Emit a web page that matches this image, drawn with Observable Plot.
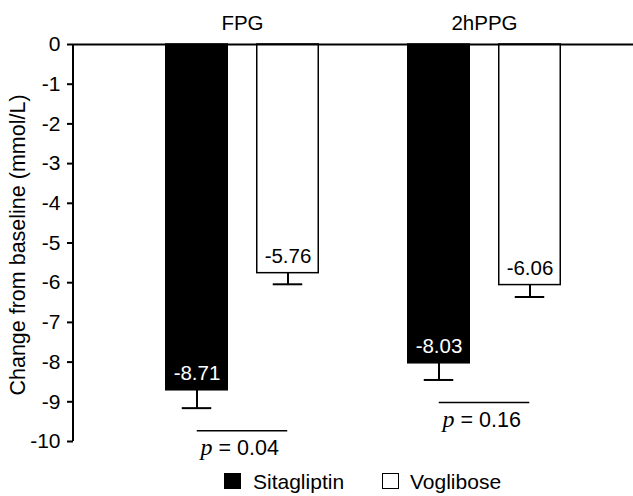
<!DOCTYPE html>
<html>
<head>
<meta charset="utf-8">
<script src="https://cdn.jsdelivr.net/npm/d3@7"></script>
<script src="https://cdn.jsdelivr.net/npm/@observablehq/plot@0.6"></script>
<style>
  body { margin: 0; background: #fff; font-family: "Liberation Sans", Arial, sans-serif; }
  #wrap { width: 633px; }
  #legend { position: relative; width: 633px; height: 30px; font-size: 21px; color: #000; }
  #legend .sw { position: absolute; top: 7px; width: 17px; height: 16px; box-sizing: border-box; border: 1.5px solid #000; }
  #legend .lb { position: absolute; top: 5px; line-height: 21px; white-space: nowrap; }
</style>
</head>
<body>
<div id="wrap">
  <div id="chart"></div>
  <div id="legend"></div>
</div>
<script>
// ---- data ----
const groups = ["FPG", "2hPPG"];
const series = ["Sitagliptin", "Voglibose"];
const sitagliptinValues = [-8.71, -8.03];
const sitagliptinErrors = [0.45, 0.42];
const vogliboseValues = [-5.76, -6.06];
const vogliboseErrors = [0.28, 0.30];
const pValues = ["0.04", "0.16"];
const yTicks = [0, -1, -2, -3, -4, -5, -6, -7, -8, -9, -10];
const yLabel = "Change from baseline (mmol/L)";

// ---- styles ----
const seriesStyle = {
  Sitagliptin: { fill: "#000", text: "#fff", dx: -45.5 },
  Voglibose: { fill: "#fff", text: "#000", dx: 45.5 }
};

const rows = groups.flatMap((g, i) => [
  { group: g, series: "Sitagliptin", value: sitagliptinValues[i], err: sitagliptinErrors[i] },
  { group: g, series: "Voglibose", value: vogliboseValues[i], err: vogliboseErrors[i] }
]);
const pRows = groups.map((g, i) => ({
  group: g,
  p: pValues[i],
  level: Math.min(sitagliptinValues[i] - sitagliptinErrors[i], vogliboseValues[i] - vogliboseErrors[i]) - 0.57
}));

const seriesMarks = series.flatMap(s => {
  const st = seriesStyle[s];
  const d = rows.filter(r => r.series === s);
  return [
    Plot.barY(d, { x: "group", y: "value", dx: st.dx, insetLeft: 90.25, insetRight: 90.25,
      fill: st.fill, stroke: "#000", strokeWidth: 1.5 }),
    Plot.ruleX(d, { x: "group", y1: "value", y2: r => r.value - r.err, dx: st.dx, stroke: "#000", strokeWidth: 2 }),
    Plot.tickY(d, { x: "group", y: r => r.value - r.err, dx: st.dx, insetLeft: 106.25, insetRight: 106.25,
      stroke: "#000", strokeWidth: 2 }),
    Plot.text(d, { x: "group", y: "value", text: r => r.value.toFixed(2), dx: st.dx, dy: -17,
      fill: st.text, fontSize: 20.5 })
  ];
});

function yAxisLine(index, scales, values, dims) {
  const [lo, hi] = d3.extent(yTicks);
  return d3.create("svg:line")
    .attr("x1", dims.marginLeft).attr("x2", dims.marginLeft)
    .attr("y1", scales.y(hi)).attr("y2", scales.y(lo))
    .attr("stroke", "#000").attr("stroke-width", 2)
    .node();
}

const chart = Plot.plot({
  width: 633,
  height: 466,
  marginTop: 44,
  marginBottom: 25,
  marginLeft: 73,
  marginRight: 0,
  style: { fontFamily: "'Liberation Sans', Arial, sans-serif", color: "#000", background: "#fff" },
  x: { type: "band", domain: groups, range: [120, 605], padding: 0 },
  y: { domain: [-10, 0] },
  marks: [
    ...seriesMarks,
    Plot.ruleY([0], { stroke: "#000", strokeWidth: 2 }),
    yAxisLine,
    Plot.axisY({ ticks: yTicks, tickFormat: d => String(d), tickSize: 6, tickPadding: 7,
      fontSize: 21, strokeWidth: 2, label: null }),
    Plot.axisX({ anchor: "top", tickSize: 0, tickPadding: 15, fontSize: 20.5, label: null }),
    Plot.text([yLabel], { frameAnchor: "left", textAnchor: "middle", rotate: -90, dx: -55, dy: 2, fontSize: 21.5 }),
    Plot.tickY(pRows, { x: "group", y: "level", insetLeft: 75.75, insetRight: 75.75, stroke: "#000", strokeWidth: 1.5 }),
    Plot.text(pRows, { x: "group", y: "level", text: () => "p", dx: -30, dy: 24, textAnchor: "end",
      lineAnchor: "bottom", fontFamily: "'Liberation Serif', serif", fontStyle: "italic", fontSize: 24 }),
    Plot.text(pRows, { x: "group", y: "level", text: r => "= " + r.p, dx: -24, dy: 24, textAnchor: "start",
      lineAnchor: "bottom", fontSize: 21.5 })
  ]
});
document.getElementById("chart").appendChild(chart);

// ---- legend ----
const legendPos = { Sitagliptin: { sw: 224, lb: 253 }, Voglibose: { sw: 382, lb: 410 } };
const legend = document.getElementById("legend");
series.forEach(s => {
  const sw = document.createElement("div");
  sw.className = "sw";
  sw.style.left = legendPos[s].sw + "px";
  sw.style.background = seriesStyle[s].fill;
  legend.appendChild(sw);
  const lb = document.createElement("div");
  lb.className = "lb";
  lb.style.left = legendPos[s].lb + "px";
  lb.textContent = s;
  legend.appendChild(lb);
});
</script>
</body>
</html>
